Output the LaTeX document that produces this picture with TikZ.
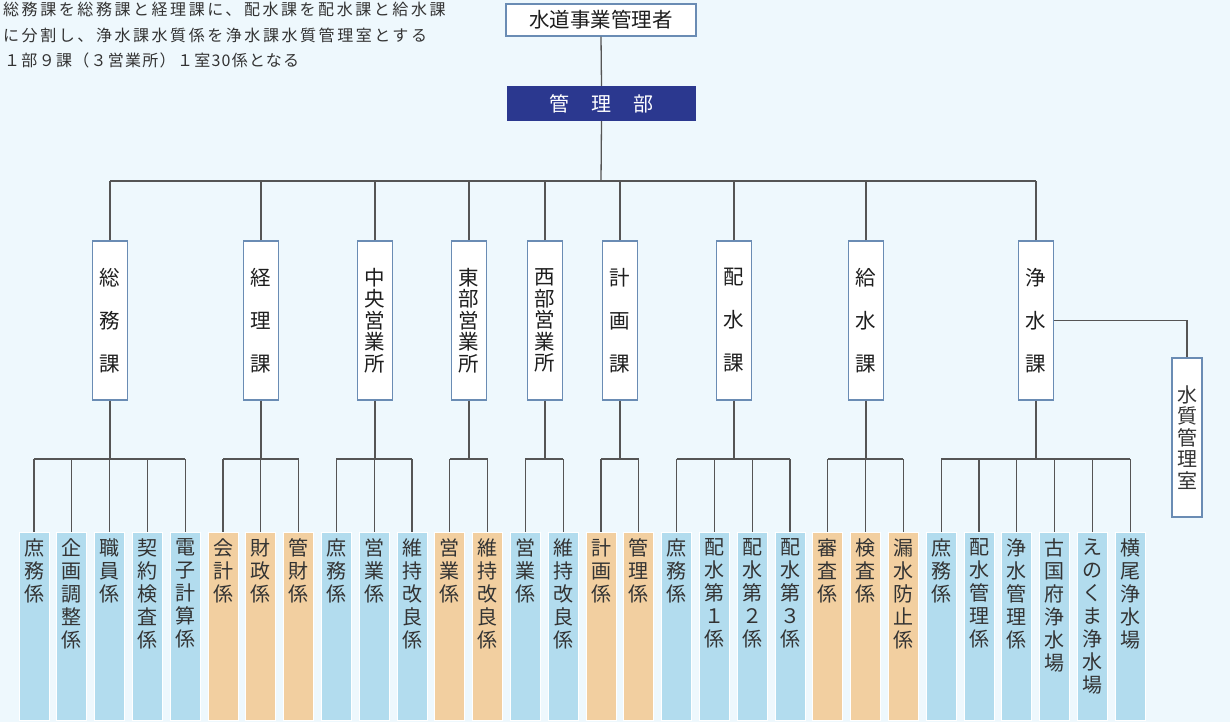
\documentclass[tikz,border=0pt]{standalone}
\usepackage{fontspec}
\setmainfont{Noto Sans CJK JP}
\newfontfamily\notefont[LetterSpace=16]{Noto Sans CJK JP}
\newfontfamily\notefontb[LetterSpace=8]{Noto Sans CJK JP}
\definecolor{bgc}{HTML}{EEF8FD}
\definecolor{navy}{HTML}{2B388F}
\definecolor{bordc}{HTML}{6A8CB4}
\definecolor{linec}{HTML}{555555}
\definecolor{bleaf}{HTML}{B2DCEE}
\definecolor{oleaf}{HTML}{F2CFA0}
\definecolor{txtc}{HTML}{333333}
\definecolor{dtxt}{HTML}{1E1E1E}
\tikzset{
  topbox/.style={draw=bordc, line width=1.2pt, fill=white, minimum width=190pt, minimum height=32pt, inner sep=0pt, text=dtxt, font=\fontsize{20.5}{20.5}\selectfont},
  headbox/.style={fill=navy, minimum width=189pt, minimum height=35pt, inner sep=0pt, text=white, font=\fontsize{20}{20}\selectfont},
  secbox/.style={draw=bordc, line width=1.2pt, fill=white, minimum width=35pt, minimum height=159pt, inner sep=0pt, align=center, text=dtxt},
  sec3/.style={secbox, font=\fontsize{20.5}{43}\selectfont},
  sec5/.style={secbox, font=\fontsize{20.5}{21.5}\selectfont},
  wqbox/.style={draw=bordc, line width=1.2pt, fill=white, minimum width=30pt, minimum height=159pt, inner sep=0pt, align=center, text=txtc, font=\fontsize{20}{21.5}\selectfont},
  leafbox/.style={draw=white, line width=0.8pt, minimum width=30pt, minimum height=188pt, inner sep=0pt},
  leaftext/.style={anchor=north, align=center, inner sep=0pt, text=txtc, font=\fontsize{20}{23}\selectfont},
  notetext/.style={anchor=north west, align=left, inner sep=0pt, text=txtc},
  conn/.style={draw=linec, line width=1.3pt},
}
\newcommand\myleaf[4]{%
  \node[leafbox, fill=#3] (#1) at (#2,626) {};
  \node[leaftext] at ([yshift=-7pt]#1.north) {#4};
}
\begin{document}
\begin{tikzpicture}[x=1pt,y=-1pt]
\fill[bgc] (0,0) rectangle (1230,722);
\useasboundingbox (0,0) rectangle (1230,722);

% note
\node[notetext, font=\notefont\fontsize{16}{25.5}\selectfont] (note) at (3,2)
 {総務課を総務課と経理課に、配水課を配水課と給水課\\に分割し、浄水課水質係を浄水課水質管理室とする};
\node[notetext, font=\notefontb\fontsize{16}{25.5}\selectfont] (note3) at (4,53)
 {１部９課（３営業所）１室30係となる};

% top
\node[topbox] (top) at (601,20) {水道事業管理者};
\node[headbox] (head) at (601.5,103.5) {管\hspace{22pt}理\hspace{22pt}部};

% sections
\node[sec3] (s1) at (110,320.5) {総\\務\\課};
\node[sec3] (s2) at (261,320.5) {経\\理\\課};
\node[sec5] (s3) at (375,320.5) {中\\央\\営\\業\\所};
\node[sec5] (s4) at (469,320.5) {東\\部\\営\\業\\所};
\node[sec5] (s5) at (545,320.5) {西\\部\\営\\業\\所};
\node[sec3] (s6) at (620,320.5) {計\\画\\課};
\node[sec3] (s7) at (734,320.5) {配\\水\\課};
\node[sec3] (s8) at (866,320.5) {給\\水\\課};
\node[sec3] (s9) at (1036,320.5) {浄\\水\\課};
\node[wqbox] (wq) at (1187,437.5) {水\\質\\管\\理\\室};

% leaves
\myleaf{l0}{34}{bleaf}{庶\\務\\係}
\myleaf{l1}{71.8}{bleaf}{企\\画\\調\\整\\係}
\myleaf{l2}{109.6}{bleaf}{職\\員\\係}
\myleaf{l3}{147.4}{bleaf}{契\\約\\検\\査\\係}
\myleaf{l4}{185.2}{bleaf}{電\\子\\計\\算\\係}
\myleaf{l5}{223}{oleaf}{会\\計\\係}
\myleaf{l6}{260.8}{oleaf}{財\\政\\係}
\myleaf{l7}{298.6}{oleaf}{管\\財\\係}
\myleaf{l8}{336.4}{bleaf}{庶\\務\\係}
\myleaf{l9}{374.2}{bleaf}{営\\業\\係}
\myleaf{l10}{412}{bleaf}{維\\持\\改\\良\\係}
\myleaf{l11}{449.8}{oleaf}{営\\業\\係}
\myleaf{l12}{487.6}{oleaf}{維\\持\\改\\良\\係}
\myleaf{l13}{525.4}{bleaf}{営\\業\\係}
\myleaf{l14}{563.2}{bleaf}{維\\持\\改\\良\\係}
\myleaf{l15}{601}{oleaf}{計\\画\\係}
\myleaf{l16}{638.8}{oleaf}{管\\理\\係}
\myleaf{l17}{676.6}{bleaf}{庶\\務\\係}
\myleaf{l18}{714.4}{bleaf}{配\\水\\第\\１\\係}
\myleaf{l19}{752.2}{bleaf}{配\\水\\第\\２\\係}
\myleaf{l20}{790}{bleaf}{配\\水\\第\\３\\係}
\myleaf{l21}{827.8}{oleaf}{審\\査\\係}
\myleaf{l22}{865.6}{oleaf}{検\\査\\係}
\myleaf{l23}{903.4}{oleaf}{漏\\水\\防\\止\\係}
\myleaf{l24}{941.2}{bleaf}{庶\\務\\係}
\myleaf{l25}{979}{bleaf}{配\\水\\管\\理\\係}
\myleaf{l26}{1016.8}{bleaf}{浄\\水\\管\\理\\係}
\myleaf{l27}{1054.6}{bleaf}{古\\国\\府\\浄\\水\\場}
\myleaf{l28}{1092.4}{bleaf}{え\\の\\く\\ま\\浄\\水\\場}
\myleaf{l29}{1130.2}{bleaf}{横\\尾\\浄\\水\\場}

% connectors: top level
\coordinate (bus) at (601,181);
\coordinate (gbus) at (0,459);
\draw[conn] (top.south) -- (head.north);
\draw[conn] (head.south) -- (bus);
\draw[conn] (s1.north |- bus) -- (s9.north |- bus);
\foreach \s in {s1,s2,s3,s4,s5,s6,s7,s8,s9}{
  \draw[conn] (\s.north) -- (\s.north |- bus);
  \draw[conn] (\s.south) -- (\s.south |- gbus);
}
\draw[conn] (s9.east) -| (wq.north);

% group buses
\foreach \a/\b in {l0/l4,l5/l7,l8/l10,l11/l12,l13/l14,l15/l16,l17/l20,l21/l23,l24/l29}{
  \draw[conn] (\a.north |- gbus) -- (\b.north |- gbus);
}
\foreach \l in {l0,l1,l2,l3,l4,l5,l6,l7,l8,l9,l10,l11,l12,l13,l14,l15,l16,l17,l18,l19,l20,l21,l22,l23,l24,l25,l26,l27,l28,l29}{
  \draw[conn] (\l.north) -- (\l.north |- gbus);
}
\end{tikzpicture}
\end{document}
